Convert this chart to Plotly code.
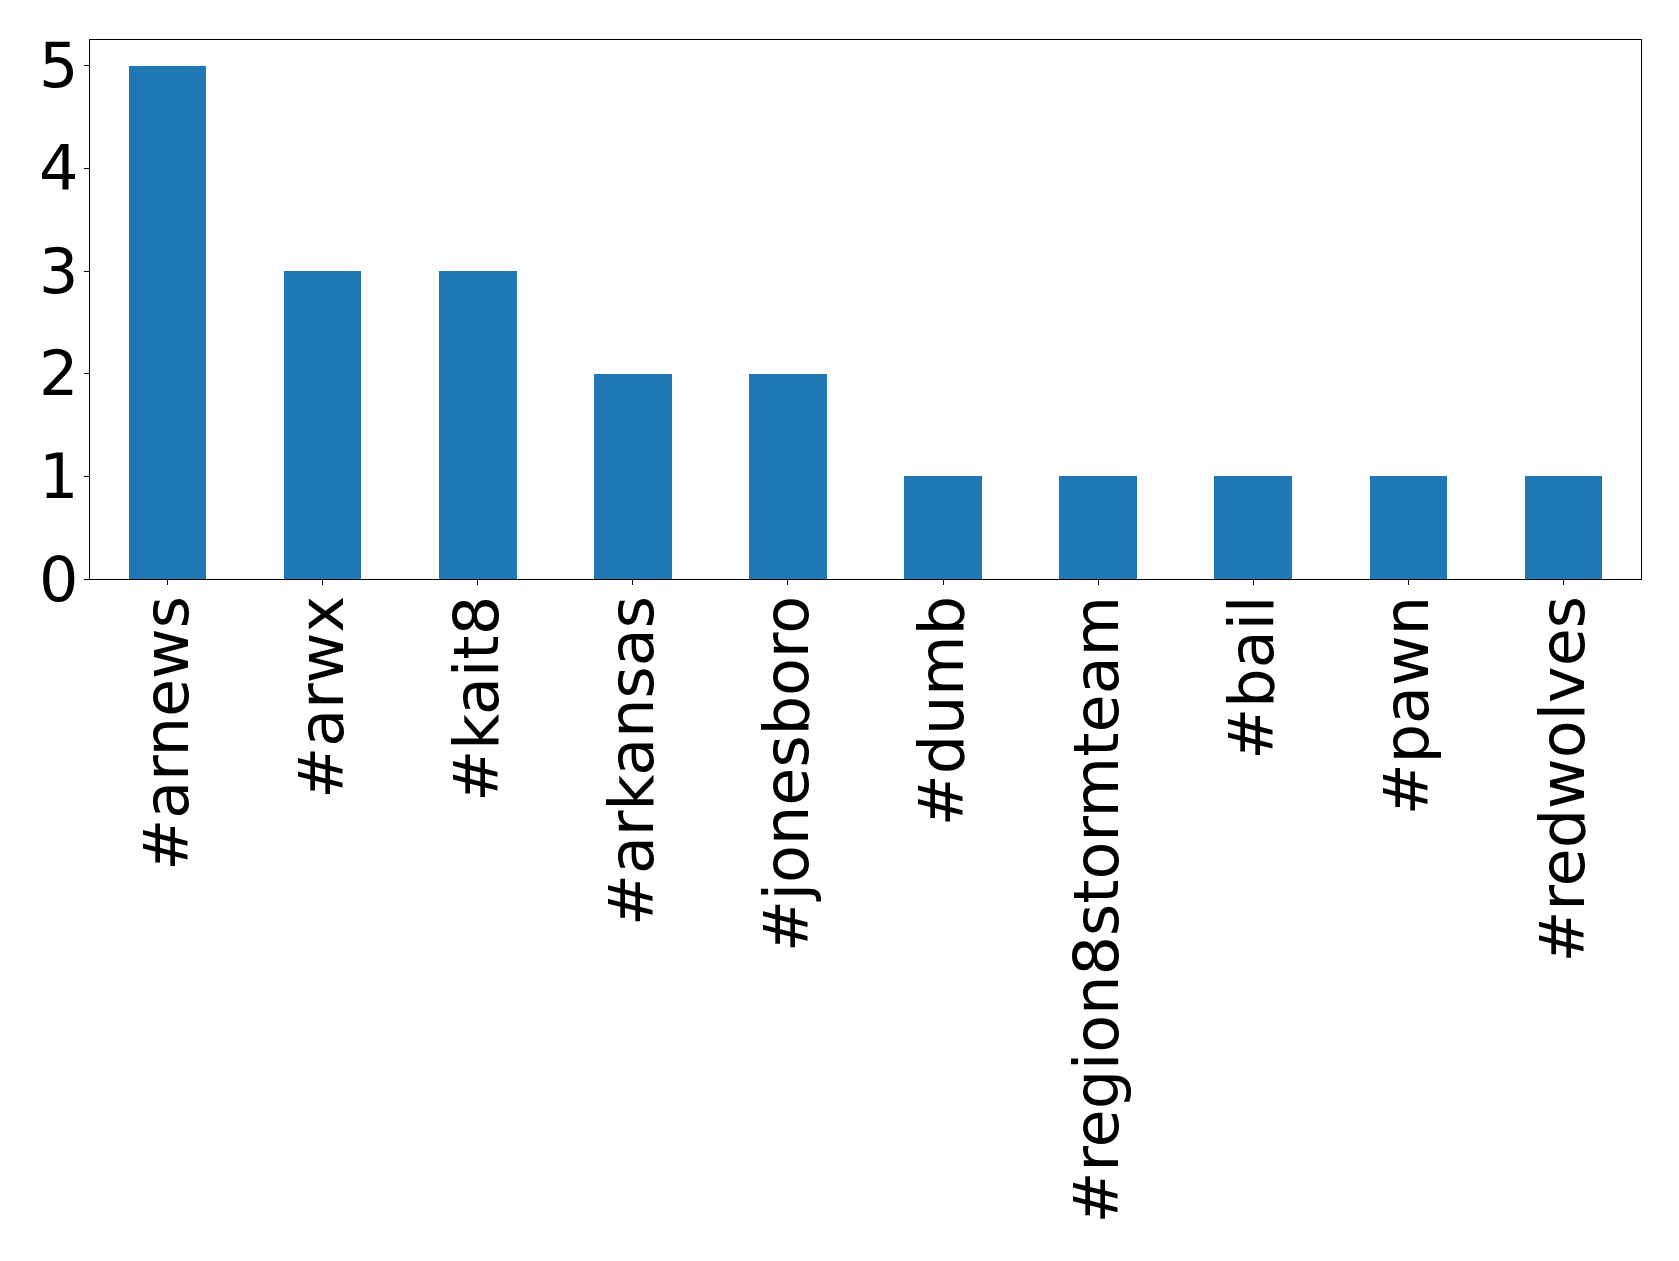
import plotly.graph_objects as go

categories = ["#arnews", "#arwx", "#kait8", "#arkansas", "#jonesboro",
              "#dumb", "#region8stormteam", "#bail", "#pawn", "#redwolves"]
counts = [5, 3, 3, 2, 2, 1, 1, 1, 1, 1]
y_ticks = [0, 1, 2, 3, 4, 5]

fig = go.Figure(go.Bar(x=list(range(len(categories))), y=counts,
                       width=0.5, marker=dict(color="#1f77b4", line=dict(width=0))))

font = dict(family="DejaVu Sans", size=62, color="black")
fig.update_layout(
    width=1679, height=1261,
    margin=dict(l=82, r=46, t=32, b=690, autoexpand=False),
    paper_bgcolor="white", plot_bgcolor="white",
    showlegend=False,
    bargap=0,
)
fig.update_xaxes(range=[-0.5, len(categories) - 0.5], tickmode="array",
                 tickvals=list(range(len(categories))), ticktext=categories,
                 tickangle=-90, tickfont=font, ticks="outside", ticklen=5,
                 tickcolor="black", showline=True, linecolor="black", linewidth=1.2,
                 mirror=True, showgrid=False, zeroline=False, automargin=False,
                 ticklabelstandoff=-14)
fig.update_yaxes(range=[0, 5.25], tickmode="array", tickvals=y_ticks,
                 ticktext=[str(v) for v in y_ticks], tickfont=font,
                 ticks="outside", ticklen=5, tickcolor="black",
                 showline=True, linecolor="black", linewidth=1.2, mirror=True,
                 showgrid=False, zeroline=False, automargin=False,
                 ticklabelstandoff=-7)
fig.write_html("out.html")
